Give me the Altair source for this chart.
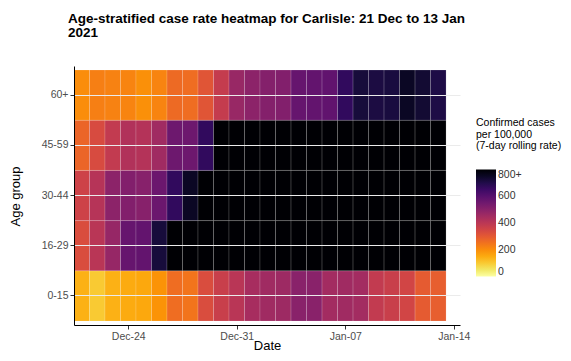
import altair as alt
import pandas as pd

# ---- data -------------------------------------------------------------
dates = ["Dec-21", "Dec-22", "Dec-23", "Dec-24", "Dec-25", "Dec-26", "Dec-27",
         "Dec-28", "Dec-29", "Dec-30", "Dec-31", "Jan-01", "Jan-02", "Jan-03",
         "Jan-04", "Jan-05", "Jan-06", "Jan-07", "Jan-08", "Jan-09", "Jan-10",
         "Jan-11", "Jan-12", "Jan-13"]
tick_labels = ["Dec-24", "Dec-31", "Jan-07", "Jan-14"]
tick_positions = [3, 10, 17, 24]  # day index of each tick label (Dec-21 = 0)

age_groups = ["0-15", "16-29", "30-44", "45-59", "60+"]

rate_0_15 = [140, 100, 140, 150, 155, 190, 260, 245, 330, 370, 405, 440,
             455, 460, 500, 500, 450, 455, 450, 385, 370, 350, 295, 290]
rate_16_29 = [330, 405, 475, 570, 575, 720, 860, 930, 1010, 1080, 1150, 1190,
              1220, 1240, 1230, 1200, 1170, 1140, 1110, 1080, 1060, 1040, 1020, 990]
rate_30_44 = [360, 410, 495, 515, 505, 560, 670, 750, 850, 910, 980, 1030,
              1060, 1080, 1090, 1080, 1060, 1040, 1010, 990, 970, 950, 930, 910]
rate_45_59 = [275, 335, 385, 420, 415, 455, 555, 555, 670, 850, 900, 950,
              1000, 1030, 1050, 1060, 1040, 1020, 990, 970, 950, 930, 910, 890]
rate_60p = [200, 225, 220, 215, 195, 215, 265, 260, 310, 380, 470, 495,
            510, 515, 570, 575, 580, 670, 720, 710, 715, 750, 730, 705]

rates = {"0-15": rate_0_15, "16-29": rate_16_29, "30-44": rate_30_44,
         "45-59": rate_45_59, "60+": rate_60p}

rows = []
for g in age_groups:
    for i, (d, v) in enumerate(zip(dates, rates[g])):
        rows.append({"age": g, "date": d, "day": i,
                     "x0": i - 0.5, "x1": i + 0.5, "rate": v})
df = pd.DataFrame(rows)

label_map = "{" + ",".join(f"'{p}':'{l}'" for p, l in zip(tick_positions, tick_labels)) + "}"

FONT = "Liberation Sans"

chart = alt.Chart(df).mark_rect(
    stroke="white", strokeWidth=0.6, strokeOpacity=0.25
).encode(
    x=alt.X("x0:Q",
            scale=alt.Scale(domain=[-0.5, 24.4], nice=False, zero=False),
            axis=alt.Axis(values=tick_positions,
                          labelExpr=f"{label_map}[datum.value]",
                          title="Date", grid=False,
                          titleY=24, titleBaseline="alphabetic")),
    x2="x1:Q",
    y=alt.Y("age:O",
            scale=alt.Scale(domain=list(reversed(age_groups)),
                            paddingInner=0, paddingOuter=0.08),
            axis=alt.Axis(title="Age group", grid=True, bandPosition=0.5,
                          gridColor="#ebebeb", gridWidth=1,
                          titleX=-59, titleY=130, titleBaseline="middle",
                          titleAngle=270)),
    color=alt.Color("rate:Q",
                    scale=alt.Scale(scheme="inferno", reverse=True,
                                    domain=[0, 800], clamp=True),
                    legend=alt.Legend(
                        title=["Confirmed cases", "\u00a0per 100,000",
                               "\u00a0(7-day rolling rate)"],
                        orient="none", legendX=402, legendY=52,
                        values=[0, 200, 400, 600, 800],
                        labelExpr="datum.value >= 800 ? '800+' : datum.label",
                        gradientLength=107, gradientThickness=20,
                        direction="vertical")),
    tooltip=["age", "date", "rate"],
).properties(
    width=386, height=259,
    autosize=alt.AutoSizeParams(type="none"),
    padding={"left": 66, "top": 58, "right": 103, "bottom": 28},
    title=alt.TitleParams(
        text=["Age-stratified case rate heatmap for Carlisle: 21 Dec to 13 Jan", "2021"],
        anchor="start", frame="group", dx=-6, offset=27, font=FONT, fontSize=13.5,
        fontWeight="bold", color="#000000", lineHeight=14),
).configure_view(
    stroke=None
).configure_axis(
    domainColor="#000000", domainWidth=1, tickColor="#333333", tickSize=4,
    labelColor="#4d4d4d", labelFont=FONT, labelFontSize=10.5, labelPadding=2,
    titleFont=FONT, titleFontSize=13, titleFontWeight="normal", titleColor="#000000",
).configure_legend(
    titleFont=FONT, titleFontSize=10.5, titleFontWeight="normal", titleColor="#000000",
    titleLineHeight=11.5, titlePadding=18, labelFont=FONT, labelFontSize=10.5,
    labelColor="#333333", labelOffset=6, labelBaseline="middle",
)

chart.save("out.html", embed_options={"renderer": "svg", "actions": False})
